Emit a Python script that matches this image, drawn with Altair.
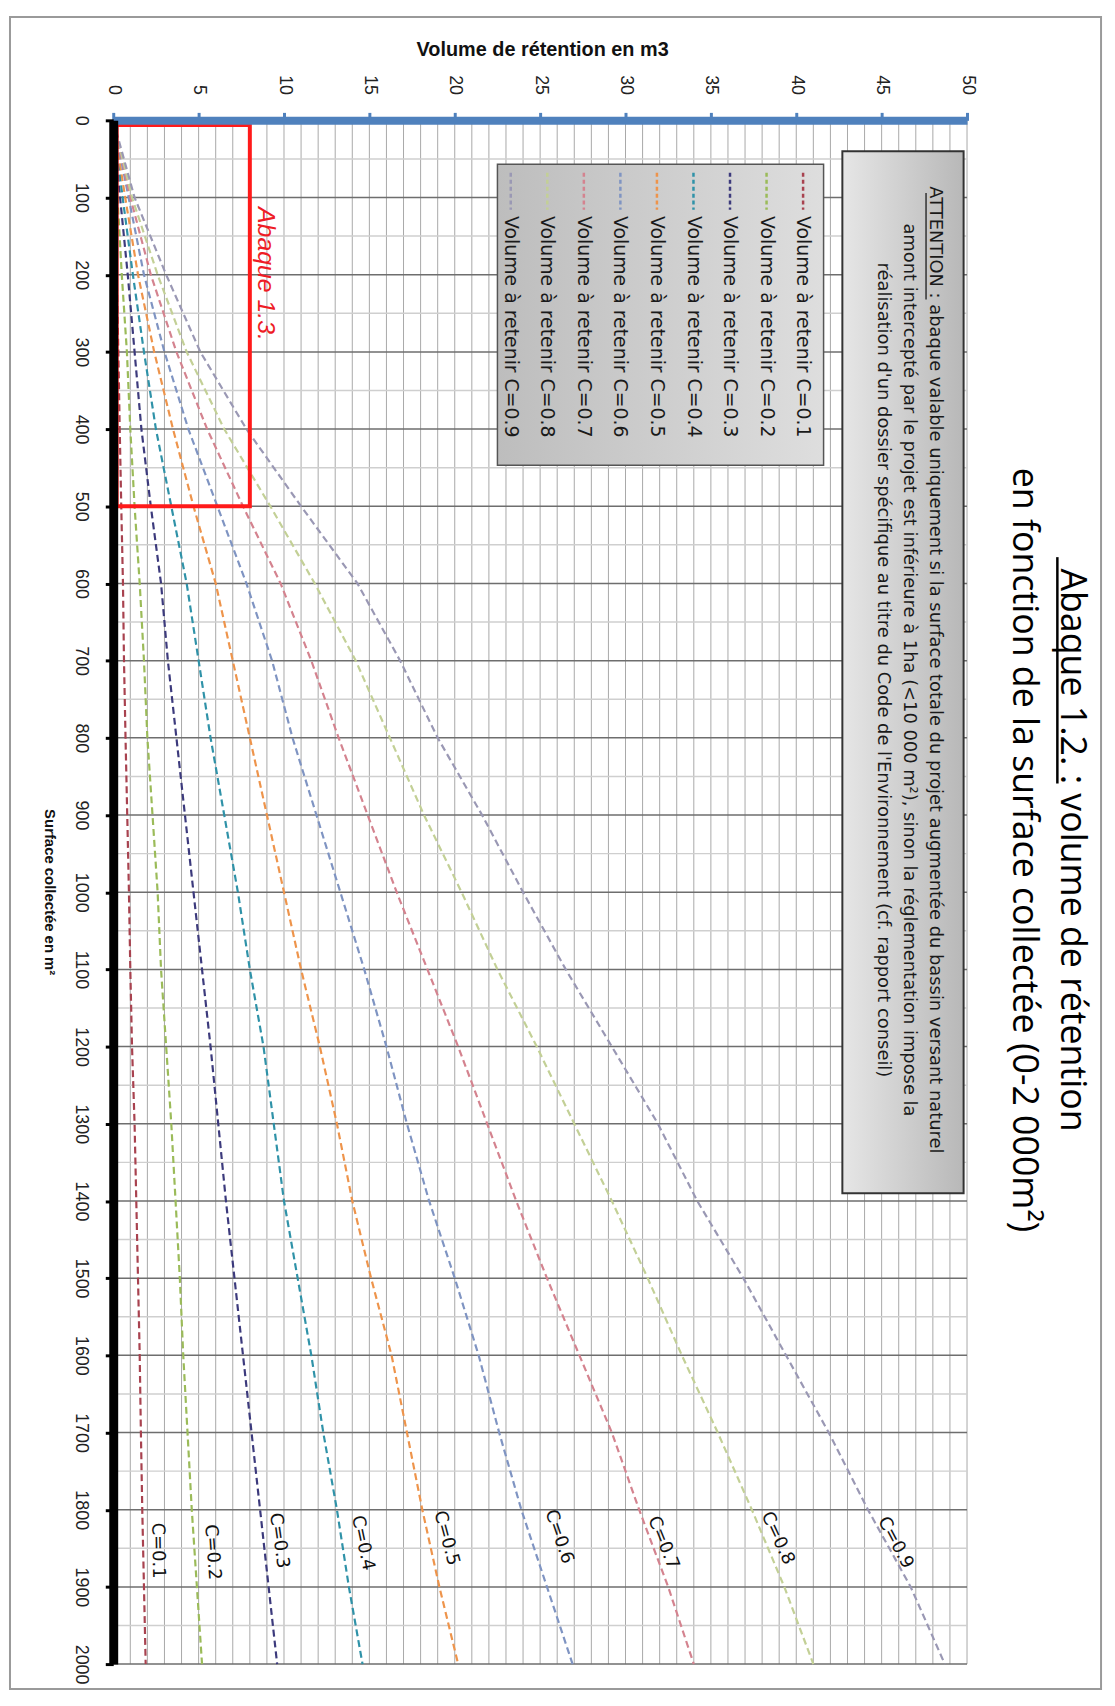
import altair as alt
import pandas as pd

# ---------------- data ----------------
surface = [0, 100, 200, 300, 400, 500, 600, 700, 800, 900, 1000,
           1100, 1200, 1300, 1400, 1500, 1600, 1700, 1800, 1900, 2000]

coef_labels = ["C=0.1", "C=0.2", "C=0.3", "C=0.4", "C=0.5",
               "C=0.6", "C=0.7", "C=0.8", "C=0.9"]

vol_c01 = [0, 0.1, 0.2, 0.3, 0.38, 0.47, 0.57, 0.63, 0.72, 0.82, 0.92, 1.0, 1.1, 1.25, 1.35, 1.45, 1.55, 1.62, 1.7, 1.8, 1.9]
vol_c02 = [0, 0.25, 0.5, 0.8, 1.0, 1.25, 1.55, 1.8, 2.0, 2.3, 2.6, 2.8, 3.1, 3.4, 3.65, 3.9, 4.1, 4.35, 4.6, 4.9, 5.2]
vol_c03 = [0, 0.4, 0.85, 1.25, 1.65, 2.2, 2.8, 3.2, 3.7, 4.2, 4.7, 5.2, 5.7, 6.15, 6.6, 7.1, 7.6, 8.1, 8.6, 9.1, 9.6]
vol_c04 = [0, 0.55, 1.15, 1.8, 2.5, 3.4, 4.3, 5.0, 5.7, 6.5, 7.3, 8.0, 8.8, 9.4, 10.0, 10.8, 11.6, 12.3, 13.1, 13.8, 14.6]
vol_c05 = [0, 0.7, 1.45, 2.4, 3.5, 4.7, 6.0, 7.0, 8.0, 9.0, 10.0, 11.0, 12.1, 13.1, 14.0, 15.1, 16.3, 17.2, 18.1, 19.1, 20.2]
vol_c06 = [0, 0.9, 1.8, 3.0, 4.4, 6.1, 7.8, 9.3, 10.5, 11.9, 13.3, 14.7, 16.0, 17.2, 18.5, 20.0, 21.4, 22.6, 23.9, 25.4, 26.9]
vol_c07 = [0, 1.0, 2.2, 3.7, 5.5, 7.6, 9.8, 11.6, 13.2, 14.9, 16.6, 18.4, 20.2, 21.9, 23.6, 25.4, 27.3, 29.2, 30.8, 32.5, 34.0]
vol_c08 = [0, 1.1, 2.6, 4.3, 6.5, 9.2, 11.8, 14.2, 16.2, 18.2, 20.4, 22.5, 24.8, 27.0, 29.2, 31.3, 33.3, 35.4, 37.4, 39.3, 41.0]
vol_c09 = [0, 1.25, 3.1, 5.1, 7.8, 11.0, 14.3, 16.8, 19.0, 21.6, 24.0, 26.5, 29.2, 31.9, 34.2, 36.9, 39.4, 41.9, 44.2, 46.7, 48.7]
series = [vol_c01, vol_c02, vol_c03, vol_c04, vol_c05, vol_c06, vol_c07, vol_c08, vol_c09]

legend_texts = ["Volume à retenir " + c for c in coef_labels]

volume_ticks = list(range(0, 51, 5))
surface_ticks = list(range(0, 2001, 100))
volume_grid = list(range(0, 51, 1))
surface_minor_grid = list(range(50, 2001, 100))
surface_major_grid = list(range(100, 2001, 100))

title_line1 = "Abaque 1.2. : volume de rétention"
title_line2 = "en fonction de la surface collectée (0-2 000m²)"
x_title = "Volume de rétention en m3"
y_title = "Surface collectée en m²"
warning_lines = [
    "ATTENTION : abaque valable uniquement si la surface totale du projet augmentée du bassin versant naturel",
    "amont intercepté par le projet est inférieure à 1ha (<10 000 m²), sinon la réglementation impose la",
    "réalisation d'un dossier spécifique au titre du Code de l'Environnement (cf. rapport conseil)",
]
zoom_label = "Abaque 1.3."

# ---------------- layout / styles ----------------
colors = ["#A8424F", "#9BBB59", "#3C3A7C", "#2F92A8", "#EE944B",
          "#7F94C2", "#D4838F", "#C3D096", "#9A98B4"]
W, H = 860, 1555
label_pos_v = [2.6, 5.8, 9.7, 14.6, 19.5, 26.1, 32.2, 38.9, 45.8]
label_pos_s = [1853, 1855, 1840, 1843, 1837, 1835, 1843, 1837, 1843]
label_angle = [89, 86, 82, 78, 75, 71, 68, 65, 62]
legend_v = [40.4 - 2.14 * i for i in range(9)]
legend_box = dict(v1=22.5, v2=41.6, s1=57, s2=447)
warn_box = dict(v1=42.7, v2=49.8, s1=40, s2=1390)
warn_v = [48.1, 46.6, 45.1]
warn_s = 712
warn_underline = dict(v=47.6, s1=94, s2=232)
red_box = dict(v1=0.2, v2=8.0, s1=6, s2=500)

xscale = alt.Scale(domain=[0, 50], nice=False, zero=False)
yscale = alt.Scale(domain=[0, 2000], nice=False, zero=False, reverse=True)

xaxis = alt.Axis(orient="top", values=volume_ticks, grid=False, labelAngle=90,
                 labelAlign="right", labelBaseline="middle", labelFlush=False,
                 labelOverlap=False, labelFont="Liberation Sans", labelFontSize=18,
                 labelColor="#222222", labelPadding=18, tickSize=8, tickWidth=3,
                 tickColor="#4F81BD", domainColor="#4F81BD", domainWidth=8,
                 title=x_title, titleFont="Liberation Sans", titleFontSize=20,
                 titleFontWeight="bold", titleAngle=0, titleX=432, titleY=-71,
                 titleAlign="center", titleBaseline="middle", titleColor="#111111",
                 zindex=1)
yaxis = alt.Axis(orient="left", values=surface_ticks, format="d", grid=False, labelAngle=90,
                 labelAlign="center", labelBaseline="top", labelFlush=False,
                 labelOverlap=False, labelFont="Liberation Sans", labelFontSize=18,
                 labelColor="#222222", labelPadding=16, tickSize=8, tickWidth=3,
                 tickColor="#000000", domainColor="#000000", domainWidth=9,
                 title=y_title, titleFont="Liberation Sans", titleFontSize=15,
                 titleFontWeight="bold", titleAngle=90, titleX=-64, titleY=777,
                 titleAlign="center", titleBaseline="middle", titleColor="#111111",
                 zindex=1)


def X(field):
    return alt.X(field, scale=xscale, axis=xaxis)


def Y(field):
    return alt.Y(field, scale=yscale, axis=yaxis)


# ---------------- frames ----------------
rows = []
for lab, vals in zip(coef_labels, series):
    for s, v in zip(surface, vals):
        rows.append({"S": s, "V": v, "C": lab})
df_lines = pd.DataFrame(rows)

color_scale = alt.Scale(domain=coef_labels, range=colors)

vgrid = alt.Chart(pd.DataFrame({"V": volume_grid})).mark_rule(
    color="#a8a8a8", strokeWidth=1).encode(x=X("V:Q"))
hminor = alt.Chart(pd.DataFrame({"S": surface_minor_grid})).mark_rule(
    color="#cfcfcf", strokeWidth=1.5).encode(y=Y("S:Q"))
hmajor = alt.Chart(pd.DataFrame({"S": surface_major_grid})).mark_rule(
    color="#6e6e6e", strokeWidth=1.5).encode(y=Y("S:Q"))


def box(d, fill, stroke, sw):
    df = pd.DataFrame([{"V": d["v1"], "V2": d["v2"], "S": d["s1"], "S2": d["s2"]}])
    return alt.Chart(df).mark_rect(fill=fill, stroke=stroke, strokeWidth=sw).encode(
        x=X("V:Q"), x2="V2:Q", y=Y("S:Q"), y2="S2:Q")


legend_fill = alt.Gradient(gradient="linear", x1=0, x2=1, y1=0, y2=0,
                           stops=[alt.GradientStop(color="#bdbdbd", offset=0),
                                  alt.GradientStop(color="#dedede", offset=1)])
warn_fill = alt.Gradient(gradient="linear", x1=0, x2=1, y1=0, y2=0,
                         stops=[alt.GradientStop(color="#e6e6e6", offset=0),
                                alt.GradientStop(color="#b8b8b8", offset=1)])

legend_rect = box(legend_box, legend_fill, "#555555", 1.5)
warn_rect = box(warn_box, warn_fill, "#333333", 2)
red_rect = box(red_box, "transparent", "#FF1A1A", 4)

lines = alt.Chart(df_lines).mark_line(strokeDash=[7, 4], strokeWidth=2.2).encode(
    x=X("V:Q"), y=Y("S:Q"),
    color=alt.Color("C:N", scale=color_scale, legend=None),
    order="S:Q")

df_lab = pd.DataFrame({"V": label_pos_v, "S": label_pos_s, "t": coef_labels, "a": label_angle})
curve_labels = alt.Chart(df_lab).mark_text(
    align="center", baseline="middle", font="DejaVu Sans", fontSize=18, color="#111111").encode(
    x=X("V:Q"), y=Y("S:Q"), text="t:N", angle=alt.Angle("a:Q", scale=None))

df_leg = pd.DataFrame({"V": legend_v, "S": [68] * 9, "S2": [116] * 9, "St": [124] * 9,
                       "C": coef_labels, "t": legend_texts})
legend_sym = alt.Chart(df_leg).mark_rule(strokeDash=[4, 3], strokeWidth=2.5).encode(
    x=X("V:Q"), y=Y("S:Q"), y2="S2:Q",
    color=alt.Color("C:N", scale=color_scale, legend=None))
legend_txt = alt.Chart(df_leg).mark_text(
    angle=90, align="left", baseline="middle", font="DejaVu Sans", fontSize=19, color="#1a1a1a").encode(
    x=X("V:Q"), y=Y("St:Q"), text="t:N")

df_warn = pd.DataFrame({"V": warn_v, "S": [warn_s] * 3, "t": warning_lines})
warn_txt = alt.Chart(df_warn).mark_text(
    angle=90, align="center", baseline="middle", font="DejaVu Sans", fontSize=18, color="#1a1a1a").encode(
    x=X("V:Q"), y=Y("S:Q"), text="t:N")
warn_ul = alt.Chart(pd.DataFrame([{"V": warn_underline["v"], "S": warn_underline["s1"],
                                   "S2": warn_underline["s2"]}])).mark_rule(
    color="#1a1a1a", strokeWidth=1.3).encode(x=X("V:Q"), y=Y("S:Q"), y2="S2:Q")

zoom_txt = alt.Chart(pd.DataFrame({"V": [8.95], "S": [199], "t": [zoom_label]})).mark_text(
    angle=90, align="center", baseline="middle", font="Liberation Sans", fontStyle="italic",
    fontSize=25, color="#EE1C25").encode(x=X("V:Q"), y=Y("S:Q"), text="t:N")

title1 = alt.Chart(pd.DataFrame({"t": [title_line1]})).mark_text(
    angle=90, align="center", baseline="middle", font="Open Sans", fontSize=36, color="#000000").encode(
    x=alt.value(966), y=alt.value(735), text="t:N")
title2 = alt.Chart(pd.DataFrame({"t": [title_line2]})).mark_text(
    angle=90, align="center", baseline="middle", font="Open Sans", fontSize=36, color="#000000").encode(
    x=alt.value(917), y=alt.value(735), text="t:N")

underline = alt.Chart(pd.DataFrame({"t": [title_line1]})).mark_rule(
    color="#000000", strokeWidth=2.5).encode(
    x=alt.value(951), y=alt.value(440), y2=alt.value(668))

frame = alt.Chart(pd.DataFrame({"t": ["frame"]})).mark_rect(
    fill="transparent", stroke="#9a9a9a", strokeWidth=2).encode(
    x=alt.value(-104), x2=alt.value(995), y=alt.value(-104), y2=alt.value(1580))

chart = alt.layer(
    frame, vgrid, hminor, hmajor, legend_rect, warn_rect, lines, red_rect,
    curve_labels, legend_sym, legend_txt, warn_txt, warn_ul, zoom_txt, title1, title2, underline
).properties(
    width=W, height=H,
    autosize=alt.AutoSizeParams(type="none"),
    padding={"left": 106, "top": 107, "right": 141, "bottom": 28},
    background="white",
).configure_view(stroke=None)

chart.save("out.html", embed_options={"renderer": "svg", "actions": False})
